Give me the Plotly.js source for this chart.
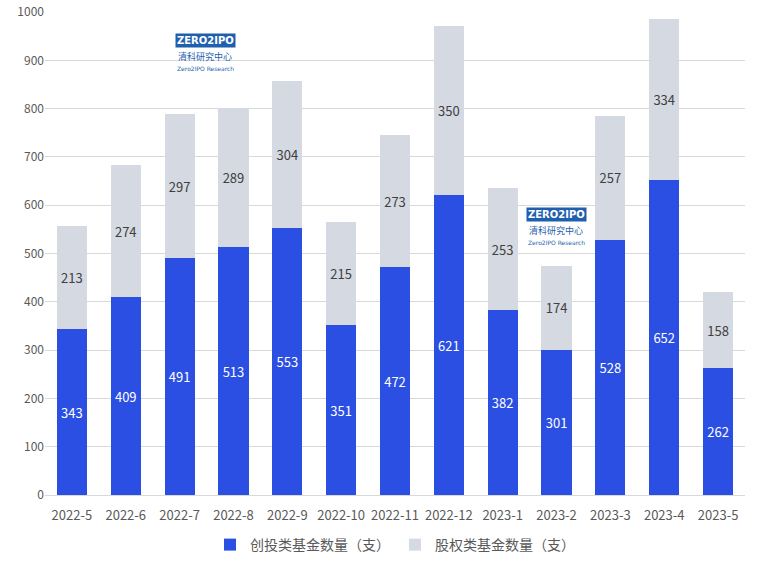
<!DOCTYPE html>
<html>
<head>
<meta charset="utf-8">
<script src="https://cdn.plot.ly/plotly-3.0.1.min.js"></script>
<style>
  html, body { margin: 0; padding: 0; background: #fff; }
  #chart { width: 760px; height: 565px; }
</style>
</head>
<body>
<div id="chart"></div>
<script>
// ── Data ─────────────────────────────────────────────────────
const MONTHS = ['2022-5','2022-6','2022-7','2022-8','2022-9','2022-10','2022-11',
                '2022-12','2023-1','2023-2','2023-3','2023-4','2023-5'];
const VC_FUNDS = [343, 409, 491, 513, 553, 351, 472, 621, 382, 301, 528, 652, 262];
const PE_FUNDS = [213, 274, 297, 289, 304, 215, 273, 350, 253, 174, 257, 334, 158];
const Y_TICKS  = [0, 100, 200, 300, 400, 500, 600, 700, 800, 900, 1000];

const C = {
  blue: '#2b4fe3',
  gray: '#d5d9e2',
  text: '#595959',
  dark: '#404040',
  grid: '#d9d9d9',
  logo: '#1f5fae',
};
const FONT = '"Noto Sans CJK SC", "Microsoft YaHei", sans-serif';

const traces = [
  {
    type: 'bar', name: '创投类基金数量（支）',
    x: MONTHS, y: VC_FUNDS,
    marker: { color: C.blue },
    text: VC_FUNDS.map(String), textposition: 'inside', insidetextanchor: 'middle',
    textfont: { color: '#ffffff', size: 13, family: FONT },
    hoverinfo: 'x+y+name',
  },
  {
    type: 'bar', name: '股权类基金数量（支）',
    x: MONTHS, y: PE_FUNDS,
    marker: { color: C.gray },
    text: PE_FUNDS.map(String), textposition: 'inside', insidetextanchor: 'middle',
    textfont: { color: C.dark, size: 13, family: FONT },
    hoverinfo: 'x+y+name',
  },
];

// watermark logo drawn as text, in paper coords
function logo(x, y) {
  return [
    { xref: 'paper', yref: 'paper', x, y, text: '<b>ZERO2IPO</b>', showarrow: false,
      font: { size: 10, color: '#ffffff', family: 'DejaVu Sans' },
      bgcolor: C.logo, borderpad: 1, xanchor: 'center', yanchor: 'middle' },
    { xref: 'paper', yref: 'paper', x, y: y - 0.033, text: '清科研究中心', showarrow: false,
      font: { size: 9, color: C.logo, family: FONT }, xanchor: 'center', yanchor: 'middle' },
    { xref: 'paper', yref: 'paper', x, y: y - 0.058, text: 'Zero2IPO Research', showarrow: false,
      font: { size: 6, color: C.logo, family: 'DejaVu Sans' }, xanchor: 'center', yanchor: 'middle' },
  ];
}

const layout = {
  width: 760, height: 565,
  paper_bgcolor: '#ffffff', plot_bgcolor: '#ffffff',
  barmode: 'stack', bargap: 0.44,
  font: { family: FONT, color: C.text, size: 13 },
  margin: { l: 45, r: 15, t: 12, b: 70, autoexpand: false },
  xaxis: {
    type: 'category', tickfont: { size: 13, color: C.text },
    showline: true, linecolor: C.grid, linewidth: 1, ticks: '',
    showgrid: false, ticklabelstandoff: 8,
  },
  yaxis: {
    range: [0, 1000], tickvals: Y_TICKS, ticktext: Y_TICKS.map(String),
    tickfont: { size: 12, color: C.text }, gridcolor: C.grid, gridwidth: 1,
    zeroline: false, showline: false, ticks: '', ticklen: 0,
  },
  legend: {
    orientation: 'h', x: 0.5, xanchor: 'center',
    yref: 'container', y: 20 / 565, yanchor: 'middle',
    font: { size: 14, color: C.text }, traceorder: 'normal',
  },
  annotations: [...logo(0.229, 0.94), ...logo(0.73, 0.58)],
  showlegend: true,
};

Plotly.newPlot('chart', traces, layout, { displayModeBar: false, staticPlot: true });
</script>
</body>
</html>
